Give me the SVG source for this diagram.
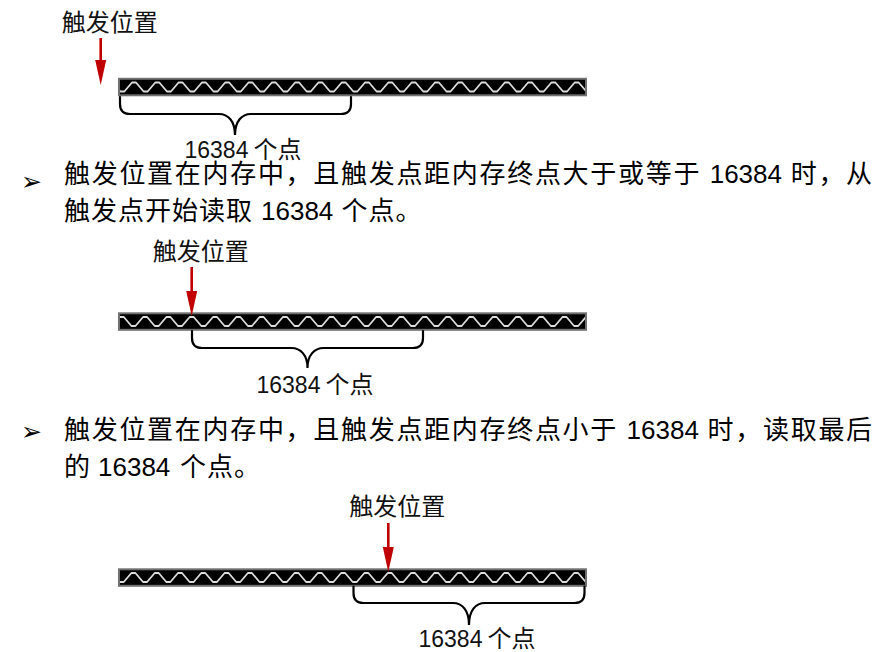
<svg xmlns="http://www.w3.org/2000/svg" xmlns:xlink="http://www.w3.org/1999/xlink" width="877" height="652" viewBox="0 0 877 652">
<style>
.t{font-family:"Liberation Sans","Noto Sans CJK SC",sans-serif;fill:#000}
.body{font-size:26px}
.lbl{font-size:24px;fill:#111}
.num{font-size:23px}
.bul{font-family:"DejaVu Sans",sans-serif;font-size:25px;fill:#000}
.strip{fill:#000}
.frame{fill:none;stroke:#707070;stroke-width:2}
.wave{fill:none;stroke:#dcdcdc;stroke-width:1.8;stroke-linejoin:round}
.brace{fill:none;stroke:#000;stroke-width:2.2;stroke-linecap:round}
.arrow{stroke:#c00000;stroke-width:2.6;fill:none;marker-end:url(#ah)}
</style>
<defs>
<marker id="ah" markerUnits="userSpaceOnUse" viewBox="0 0 25 12" refX="15" refY="6" markerWidth="25" markerHeight="12" orient="auto">
<path d="M0 0.5 L25 6 L0 11.5 Z" fill="#c00000"/>
</marker>
<path id="wavepath" d="M0 0 h4 l7.65 9 h4 l7.65 -9 h4 l7.65 9 h4 l7.65 -9 h4 l7.65 9 h4 l7.65 -9 h4 l7.65 9 h4 l7.65 -9 h4 l7.65 9 h4 l7.65 -9 h4 l7.65 9 h4 l7.65 -9 h4 l7.65 9 h4 l7.65 -9 h4 l7.65 9 h4 l7.65 -9 h4 l7.65 9 h4 l7.65 -9 h4 l7.65 9 h4 l7.65 -9 h4 l7.65 9 h4 l7.65 -9 h4 l7.65 9 h4 l7.65 -9 h4 l7.65 9 h4 l7.65 -9 h4 l7.65 9 h4 l7.65 -9 h4 l7.65 9 h4 l7.65 -9 h4 l7.65 9 h4 l7.65 -9 h4 l7.65 9 h4 l7.65 -9 h4 l7.65 9 h4 l7.65 -9 h4 l7.65 9 h4 l7.65 -9 h4 l7.65 9 h4 l7.65 -9 h4 l7.65 9 h4 l7.65 -9 h4 l7.65 9 h4 l7.65 -9 h4 l7.65 9 h4 l7.65 -9 h4 l7.65 9 h4 l7.65 -9"/>
<clipPath id="c1"><rect x="120" y="79.8" width="466" height="14.5"/></clipPath>
<clipPath id="c2"><rect x="120" y="314.3" width="466" height="14.5"/></clipPath>
<clipPath id="c3"><rect x="120" y="570.3" width="466" height="14.5"/></clipPath>
</defs>

<g id="diagram1">
  <text id="trig1" class="t lbl" x="61.7" y="31">触发位置</text>
  <g id="strip1">
    <rect class="strip" x="119" y="78.8" width="467" height="16.5"/>
    <g clip-path="url(#c1)"><use xlink:href="#wavepath" class="wave" transform="translate(108.7 82.5)"/></g>
    <rect class="frame" x="119" y="78.8" width="467" height="16.5"/>
  </g>
  <text id="count1" class="t lbl" y="158"><tspan class="num" x="184.5">16384</tspan><tspan x="253.5">个点</tspan></text>
</g>

<g id="para1">
  <text class="bul" x="21" y="190">➢</text>
  <text class="t body" y="183"><tspan x="64 91.7 119.4 147.1 174.8 202.5 230.2 257.9 285.6 313.3 341 368.7 396.4 424.1 451.8 479.5 507.2 534.9 562.6 590.3 618 645.7 673.4">触发位置在内存中，且触发点距内存终点大于或等于</tspan><tspan x="709.7">16384</tspan><tspan x="790.7 818.4 846.1">时，从</tspan></text>
  <text class="t body" y="220"><tspan x="64 91 118 145 172 199 226">触发点开始读取</tspan><tspan x="261">16384</tspan><tspan x="341.5 368.5 395.5">个点。</tspan></text>
</g>

<g id="diagram2">
  <text id="trig2" class="t lbl" x="152.7" y="260">触发位置</text>
  <g id="strip2">
    <rect class="strip" x="119" y="313.3" width="467" height="16.5"/>
    <g clip-path="url(#c2)"><use xlink:href="#wavepath" class="wave" transform="translate(96.5 317)"/></g>
    <rect class="frame" x="119" y="313.3" width="467" height="16.5"/>
  </g>
  <text id="count2" class="t lbl" y="393"><tspan class="num" x="256.5">16384</tspan><tspan x="325.5">个点</tspan></text>
</g>

<g id="para2">
  <text class="bul" x="21" y="440">➢</text>
  <text class="t body" y="439"><tspan x="64 91.7 119.4 147.1 174.8 202.5 230.2 257.9 285.6 313.3 341 368.7 396.4 424.1 451.8 479.5 507.2 534.9 562.6 590.3">触发位置在内存中，且触发点距内存终点小于</tspan><tspan x="626.6">16384</tspan><tspan x="707.6 735.3 763 790.7 818.4 846.1">时，读取最后</tspan></text>
  <text class="t body" y="476"><tspan x="64">的</tspan><tspan x="98">16384</tspan><tspan x="180 207 234">个点。</tspan></text>
</g>

<g id="diagram3">
  <text id="trig3" class="t lbl" x="349.3" y="515">触发位置</text>
  <g id="strip3">
    <rect class="strip" x="119" y="569.3" width="467" height="16.5"/>
    <g clip-path="url(#c3)"><use xlink:href="#wavepath" class="wave" transform="translate(108.1 573)"/></g>
    <rect class="frame" x="119" y="569.3" width="467" height="16.5"/>
  </g>
  <text id="count3" class="t lbl" y="647"><tspan class="num" x="418.5">16384</tspan><tspan x="487.5">个点</tspan></text>
</g>

<g id="connectors">
  <path class="arrow" d="M100.7 38 V75"/>
  <path class="arrow" d="M191.7 267 V306"/>
  <path class="arrow" d="M388.3 523 V562"/>
  <path class="brace" d="M120 97 V104 Q120 114 130 114 H219 C228 114 235 121 235 135 C235 121 242 114 251 114 H341 Q351 114 351 104 V97"/>
  <path class="brace" d="M192 331 V338 Q192 348 202 348 H291.5 C300.5 348 307.5 355 307.5 368 C307.5 355 314.5 348 323.5 348 H413 Q423 348 423 338 V331"/>
  <path class="brace" d="M353.5 586.5 V593 Q353.5 603 363.5 603 H453 C462 603 469 610 469 625 C469 610 476 603 485 603 H574.5 Q584.5 603 584.5 593 V586.5"/>
</g>
</svg>
